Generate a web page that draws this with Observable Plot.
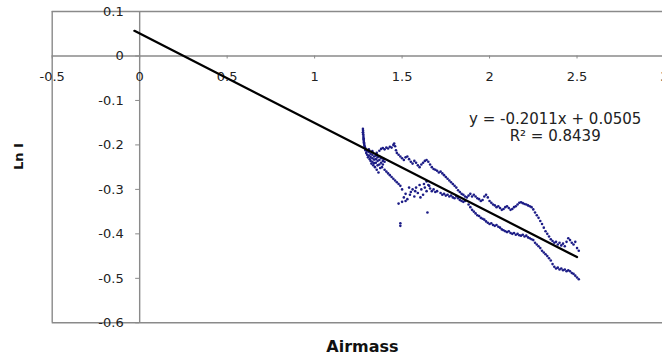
<!DOCTYPE html>
<html>
<head>
<meta charset="utf-8">
<script src="https://cdn.jsdelivr.net/npm/d3@7"></script>
<script src="https://cdn.jsdelivr.net/npm/@observablehq/plot@0.6"></script>
<style>
  html, body { margin: 0; padding: 0; background: white; overflow: hidden; }
</style>
</head>
<body>
<div id="chart"></div>
<script>
// ---- Data ----
const xTicks = [-0.5, 0, 0.5, 1, 1.5, 2, 2.5, 3];
const yTicks = [0.1, 0, -0.1, -0.2, -0.3, -0.4, -0.5, -0.6];
const xTitle = "Airmass";
const yTitle = "Ln I";

// linear fit reported on the chart
const slope = -0.2011;
const intercept = 0.0505;
const r2 = 0.8439;
const fitRange = [-0.03, 2.5];

// measurements: [airmass, ln I]
const streak = [
  [1.276,-0.164],[1.277,-0.168],[1.277,-0.172],[1.278,-0.176],[1.279,-0.180],[1.279,-0.184],
  [1.280,-0.188],[1.281,-0.191],[1.282,-0.194],[1.283,-0.197],[1.284,-0.200],[1.286,-0.203],
  [1.288,-0.206],[1.290,-0.209],[1.276,-0.172],[1.281,-0.186]
];
const cluster = [
  [1.29,-0.212],[1.295,-0.218],[1.30,-0.214],[1.30,-0.222],[1.305,-0.228],[1.31,-0.216],
  [1.31,-0.224],[1.315,-0.232],[1.32,-0.220],[1.32,-0.227],[1.32,-0.236],[1.325,-0.242],
  [1.33,-0.222],[1.33,-0.230],[1.33,-0.238],[1.335,-0.246],[1.34,-0.226],[1.34,-0.233],
  [1.34,-0.241],[1.345,-0.250],[1.35,-0.224],[1.35,-0.232],[1.35,-0.240],[1.355,-0.256],
  [1.36,-0.228],[1.36,-0.236],[1.36,-0.246],[1.365,-0.262],[1.37,-0.226],[1.37,-0.234],
  [1.37,-0.244],[1.375,-0.252],[1.38,-0.230],[1.38,-0.240],[1.385,-0.250],[1.39,-0.236],
  [1.39,-0.244],[1.395,-0.232],[1.40,-0.238],[1.31,-0.210],[1.33,-0.214],[1.355,-0.218]
];
const upperBand = [
  [1.37,-0.213],[1.38,-0.209],[1.39,-0.207],[1.40,-0.210],[1.41,-0.206],[1.42,-0.208],
  [1.43,-0.204],[1.44,-0.206],[1.45,-0.200],[1.455,-0.197],[1.46,-0.203],[1.465,-0.212],
  [1.47,-0.218],[1.48,-0.222],[1.49,-0.226],[1.50,-0.230],[1.51,-0.234],[1.52,-0.228],
  [1.53,-0.226],[1.54,-0.232],[1.55,-0.238],[1.56,-0.242],[1.57,-0.236],[1.58,-0.240],
  [1.59,-0.246],[1.60,-0.250],[1.61,-0.244],[1.62,-0.240],[1.63,-0.236],[1.64,-0.234],
  [1.65,-0.238],[1.66,-0.244],[1.67,-0.250],[1.68,-0.254],[1.69,-0.256],[1.70,-0.258],
  [1.71,-0.262],[1.72,-0.260],[1.73,-0.264],[1.74,-0.268],[1.75,-0.272],[1.76,-0.276],
  [1.77,-0.280],[1.78,-0.284],[1.79,-0.288],[1.80,-0.292],[1.81,-0.296],[1.82,-0.302],
  [1.83,-0.306],[1.84,-0.310],[1.85,-0.312],[1.86,-0.316],[1.87,-0.318],[1.88,-0.314],
  [1.89,-0.310],[1.90,-0.316],[1.91,-0.312],[1.92,-0.316],[1.93,-0.320],[1.94,-0.322],
  [1.95,-0.326],[1.96,-0.324],[1.97,-0.316],[1.98,-0.312],[1.99,-0.318],[2.00,-0.326],
  [2.01,-0.330],[2.02,-0.334],[2.03,-0.336],[2.04,-0.340],[2.05,-0.338],[2.06,-0.342],
  [2.07,-0.346],[2.08,-0.344],[2.09,-0.340],[2.10,-0.338],[2.11,-0.342],[2.12,-0.346],
  [2.13,-0.344],[2.14,-0.340],[2.15,-0.338],[2.16,-0.334],[2.17,-0.330],[2.18,-0.329],
  [2.19,-0.331],[2.20,-0.333],[2.21,-0.334],[2.22,-0.336],[2.23,-0.338],[2.24,-0.340],
  [2.25,-0.345],[2.26,-0.352],[2.27,-0.358],[2.28,-0.364],[2.29,-0.371],[2.30,-0.378],
  [2.31,-0.386],[2.32,-0.394],[2.33,-0.400],[2.34,-0.406],[2.35,-0.412],[2.36,-0.416],
  [2.37,-0.420],[2.38,-0.418],[2.39,-0.424],[2.40,-0.420],[2.41,-0.426],[2.42,-0.422],
  [2.43,-0.428],[2.44,-0.418],[2.45,-0.410],[2.46,-0.414],[2.47,-0.420],[2.48,-0.424],
  [2.49,-0.418],[2.50,-0.432],[2.51,-0.438]
];
const lowerBand = [
  [1.40,-0.256],[1.41,-0.260],[1.42,-0.264],[1.43,-0.268],[1.44,-0.272],[1.45,-0.276],
  [1.46,-0.280],[1.47,-0.284],[1.48,-0.288],
  [1.64,-0.282],[1.65,-0.290],[1.66,-0.298],[1.67,-0.304],[1.68,-0.300],[1.69,-0.306],
  [1.70,-0.304],[1.72,-0.308],[1.73,-0.312],[1.74,-0.310],[1.75,-0.314],[1.76,-0.312],
  [1.77,-0.316],[1.78,-0.314],[1.79,-0.318],[1.80,-0.320],[1.81,-0.316],[1.82,-0.320],
  [1.83,-0.324],[1.84,-0.326],[1.85,-0.328],[1.86,-0.326],[1.88,-0.334],[1.89,-0.340],
  [1.90,-0.346],[1.91,-0.350],[1.92,-0.354],[1.93,-0.358],[1.94,-0.360],[1.95,-0.364],
  [1.96,-0.366],[1.97,-0.368],[1.98,-0.372],[1.99,-0.375],[2.00,-0.378],[2.01,-0.376],
  [2.02,-0.380],[2.03,-0.382],[2.04,-0.380],[2.05,-0.384],[2.06,-0.386],[2.07,-0.390],
  [2.08,-0.392],[2.09,-0.394],[2.10,-0.396],[2.11,-0.394],[2.12,-0.398],[2.13,-0.400],
  [2.14,-0.398],[2.15,-0.402],[2.16,-0.400],[2.17,-0.403],[2.18,-0.404],[2.19,-0.402],
  [2.20,-0.406],[2.21,-0.404],[2.22,-0.408],[2.23,-0.410],[2.24,-0.412],[2.25,-0.414],
  [2.26,-0.420],[2.27,-0.424],[2.28,-0.428],[2.29,-0.432],[2.30,-0.438],[2.31,-0.442],
  [2.32,-0.446],[2.33,-0.450],[2.34,-0.455],[2.35,-0.460],[2.36,-0.468],[2.37,-0.474],
  [2.38,-0.478],[2.39,-0.476],[2.40,-0.480],[2.41,-0.478],[2.42,-0.482],[2.43,-0.480],
  [2.44,-0.484],[2.45,-0.482],[2.46,-0.484],[2.47,-0.488],[2.48,-0.490],[2.49,-0.494],
  [2.50,-0.498],[2.51,-0.502]
];
const scattered = [
  [1.49,-0.292],[1.50,-0.300],[1.51,-0.318],[1.52,-0.310],[1.53,-0.322],[1.54,-0.296],
  [1.55,-0.306],[1.56,-0.300],[1.57,-0.316],[1.58,-0.296],[1.59,-0.308],[1.60,-0.290],
  [1.61,-0.300],[1.62,-0.312],[1.63,-0.296],[1.64,-0.304],[1.52,-0.326],[1.545,-0.312],
  [1.575,-0.304],[1.605,-0.318],[1.625,-0.288],[1.655,-0.292],[1.50,-0.328],[1.48,-0.332]
];
const outliers = [[1.645,-0.352],[1.49,-0.376],[1.49,-0.382]];

// ---- Build ----
const points = [...streak, ...cluster, ...upperBand, ...lowerBand, ...scattered, ...outliers]
  .map(([x, y]) => ({x, y}));
const fit = fitRange.map(x => ({x, y: slope * x + intercept}));
const eqText = `y = ${slope}x + ${intercept}\nR² = ${r2}`;

const font = "DejaVu Sans, Arial, sans-serif";
const gray = "#8a8a8a";
const xDom = [xTicks[0], xTicks[xTicks.length - 1]];
const yDom = [yTicks[yTicks.length - 1], yTicks[0]];

const chart = Plot.plot({
  width: 662,
  height: 358,
  marginLeft: 52,
  marginRight: 0,
  marginTop: 11,
  marginBottom: 36,
  style: {background: "white", overflow: "visible"},
  x: {domain: xDom, range: [51.7, 664], axis: null},
  y: {domain: yDom, range: [322.3, 11], axis: null},
  marks: [
    // plot-area frame
    Plot.ruleY(yDom, {x1: xDom[0], x2: xDom[1], stroke: gray, strokeWidth: 1.4}),
    Plot.ruleX(xDom, {y1: yDom[0], y2: yDom[1], stroke: gray, strokeWidth: 1.4}),
    // axes crossing at the origin
    Plot.ruleY([0], {x1: xDom[0], x2: xDom[1], stroke: gray, strokeWidth: 1.4}),
    Plot.ruleX([0], {y1: yDom[0], y2: yDom[1], stroke: gray, strokeWidth: 1.4}),
    // tick marks
    Plot.ruleY(yTicks, {x1: 0, x2: 0, insetLeft: -4, stroke: gray, strokeWidth: 1}),
    Plot.ruleX(xTicks, {y1: 0, y2: 0, insetBottom: -3, stroke: gray, strokeWidth: 1}),
    // tick labels
    Plot.text(yTicks, {x: 0, y: d => d, text: d => String(d), textAnchor: "end", dx: -16,
      fontFamily: font, fontSize: 13, fill: "#222"}),
    Plot.text(xTicks, {x: d => d, y: 0, text: d => String(d), dy: 21,
      fontFamily: font, fontSize: 13, fill: "#222"}),
    // data
    Plot.dot(points, {x: "x", y: "y", r: 1.3, fill: "#1c1c86", stroke: null}),
    // trend line
    Plot.line(fit, {x: "x", y: "y", stroke: "#000", strokeWidth: 2.3}),
    // equation
    Plot.text([eqText], {x: 2.375, y: -0.1595, text: d => d, textAnchor: "middle",
      lineHeight: 1.13, fontFamily: font, fontSize: 15, fill: "#222"}),
    // axis titles
    Plot.text([yTitle], {frameAnchor: "left", dx: -34, dy: 3, rotate: -90, text: d => d,
      fontFamily: font, fontSize: 13, fontWeight: "bold", fill: "#111"}),
    Plot.text([xTitle], {frameAnchor: "bottom", dx: 5, dy: 24, lineAnchor: "middle", text: d => d,
      fontFamily: font, fontSize: 16, fontWeight: "bold", fill: "#111"})
  ]
});
document.getElementById("chart").appendChild(chart);
</script>
</body>
</html>
